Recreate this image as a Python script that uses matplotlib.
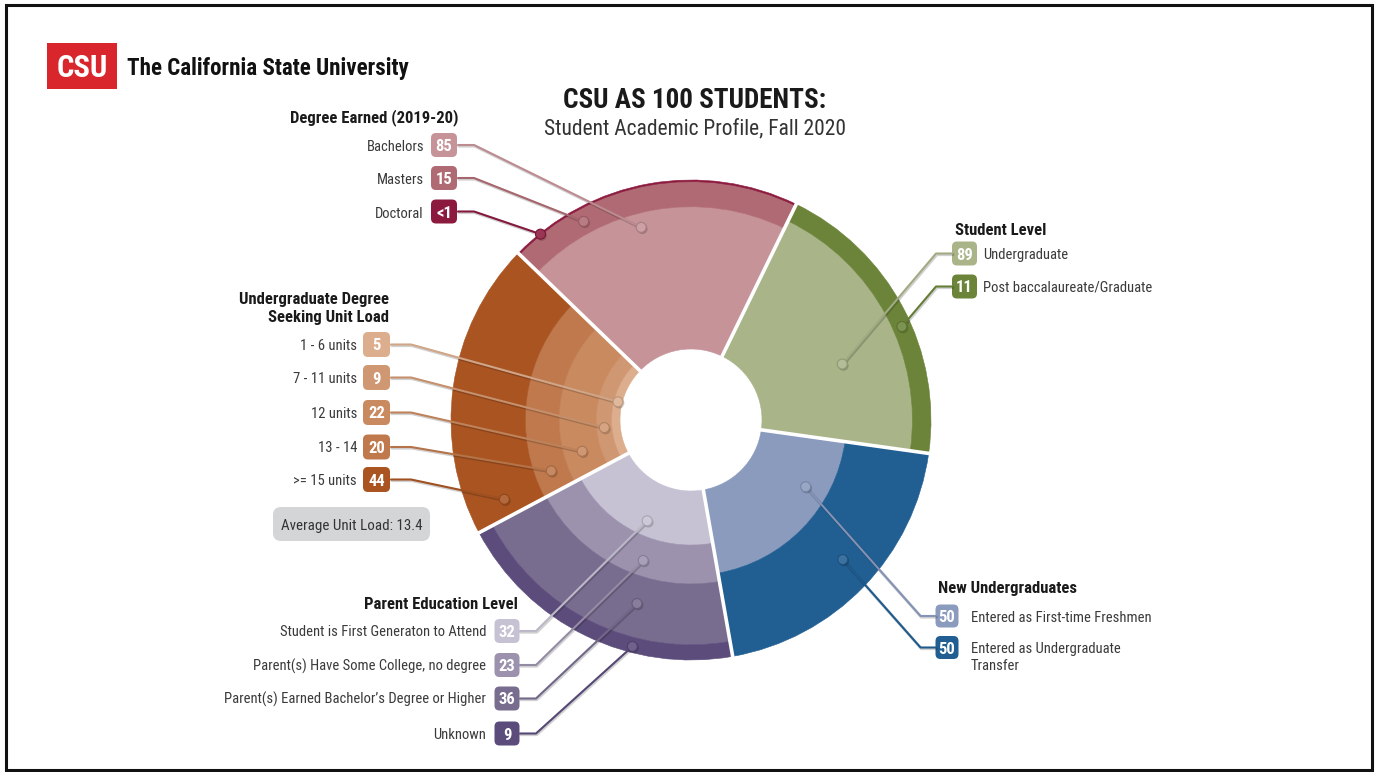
import os, glob
import numpy as np
import matplotlib
matplotlib.use('Agg')
import matplotlib.pyplot as plt
from matplotlib.patches import Wedge, FancyBboxPatch, Circle, Rectangle
from matplotlib.font_manager import FontProperties, fontManager
import matplotlib.patheffects as pe
from matplotlib.colors import to_rgb

# ---------------- data ----------------
degree_labels = ['Bachelors', 'Masters', 'Doctoral']
degree_values = [85, 15, 1]
degree_text = ['85', '15', '<1']

level_labels = ['Undergraduate', 'Post baccalaureate/Graduate']
level_values = [89, 11]

newug_labels = ['Entered as First-time Freshmen', 'Entered as Undergraduate\nTransfer']
newug_values = [50, 50]

parent_labels = ['Student is First Generaton to Attend', 'Parent(s) Have Some College, no degree',
                 "Parent(s) Earned Bachelor\u2019s Degree or Higher", 'Unknown']
parent_values = [32, 23, 36, 9]

unit_labels = ['1 - 6 units', '7 - 11 units', '12 units', '13 - 14', '>= 15 units']
unit_values = [5, 9, 22, 20, 44]

avg_unit_load = 13.4

# ---------------- fonts ----------------
def find_file(name):
    for f in fontManager.ttflist:
        if os.path.basename(f.fname) == name:
            return f.fname
    hits = glob.glob('/usr/share/fonts/**/' + name, recursive=True)
    return hits[0] if hits else None

REG = BOLD = None
SC = 1.0
for r, b, sc in [('LiberationSansNarrow-Regular.ttf', 'LiberationSansNarrow-Bold.ttf', 1.0),
                 ('RobotoCondensed-Regular.ttf', 'RobotoCondensed-Bold.ttf', 1.0),
                 ('DejaVuSansCondensed.ttf', 'DejaVuSansCondensed-Bold.ttf', 0.88)]:
    fr, fb = find_file(r), find_file(b)
    if fr and fb:
        REG, BOLD, SC = fr, fb, sc
        break
if REG is None:
    SC = 0.84

def fprop(size, bold=False, light=False):
    if REG is not None:
        return FontProperties(fname=BOLD if bold else REG, size=size * SC)
    return FontProperties(family=['Roboto', 'DejaVu Sans'],
                          weight='bold' if bold else ('light' if light else 'normal'), size=size * SC)

# ---------------- figure ----------------
W, H = 1376, 772
fig = plt.figure(figsize=(W / 100, H / 100), dpi=100)
ax = fig.add_axes([0, 0, 1, 1])
ax.set_xlim(0, W)
ax.set_ylim(H, 0)
ax.axis('off')

def T(x, y, s, size, bold=False, ha='left', color='#3a3a3a', light=False, va='baseline', **kw):
    return ax.text(x, y, s, fontproperties=fprop(size, bold, light), ha=ha, va=va, color=color, **kw)

def shade(c, f):
    r, g, b = to_rgb(c)
    if f >= 0:
        return (r + (1 - r) * f, g + (1 - g) * f, b + (1 - b) * f)
    return (r * (1 + f), g * (1 + f), b * (1 + f))

# frame
ax.add_patch(Rectangle((6, 5), 1366, 765, fill=False, edgecolor='#111111', lw=2.2, zorder=20))

# logo
ax.add_patch(Rectangle((47, 43), 70, 46, facecolor='#d8262c', edgecolor='none'))
T(82, 77, 'CSU', 22, bold=True, ha='center', color='white')
T(127, 74.5, 'The California State University', 16.6, bold=True, color='#111111')

# titles
T(695, 108, 'CSU AS 100 STUDENTS:', 19.5, bold=True, ha='center', color='#1a1a1a')
T(695, 134, 'Student Academic Profile, Fall 2020', 15.5, ha='center', color='#333333', light=True)

# ---------------- ring chart ----------------
cx, cy = 691, 420
R0, R1 = 71, 240
START, SPAN = -8, 72

groups = [
    dict(values=level_values, colors=['#a9b489', '#6b8439'],
         dot_ang=[20.3, 23.9], dot_frac=[0.6, 0.5]),
    dict(values=degree_values, colors=['#c69399', '#b06a73', '#8c1a3f'],
         dot_ang=[104.5, 118.4, 129.0], dot_frac=[0.9, 0.5, 0.5]),
    dict(values=unit_values, colors=['#dcae8e', '#d09872', '#c98a60', '#bf794d', '#a95421'],
         dot_ang=[166, 185, 196, 200, 203], dot_frac=[0.5] * 5),
    dict(values=parent_values, colors=['#c6c2d3', '#9c92ae', '#786c8f', '#5b4c7b'],
         dot_ang=[246.5, 251.2, 253.6, 255.5], dot_frac=[0.72, 0.6, 0.45, 0.6]),
    dict(values=newug_values, colors=['#8b9bbe', '#215f93'],
         dot_ang=[-30.2, -42.6], dot_frac=[0.73, 0.6]),
]

def pt(r, a):
    t = np.deg2rad(a)
    return cx + r * np.cos(t), cy - r * np.sin(t)

for i, g in enumerate(groups):
    a0 = START + i * SPAN
    a1 = a0 + SPAN
    vals = np.array(g['values'], float)
    cum = np.concatenate([[0], np.cumsum(vals)]) / vals.sum()
    radii = R0 + cum * (R1 - R0)
    g['radii'] = radii
    for k, c in enumerate(g['colors']):
        rin, rout = radii[k], radii[k + 1]
        ax.add_patch(Wedge((cx, cy), rout, -a1, -a0, width=rout - rin,
                           facecolor=c, edgecolor=c, lw=0.4, zorder=2))
    dots = []
    for k in range(len(vals)):
        r = radii[k] + g['dot_frac'][k] * (radii[k + 1] - radii[k])
        dots.append(pt(r, g['dot_ang'][k]))
    g['dots'] = dots

for i in range(5):
    a = START + i * SPAN
    x0, y0 = pt(R0 - 3, a)
    x1, y1 = pt(R1 + 5, a)
    ax.plot([x0, x1], [y0, y1], color='white', lw=2.6, solid_capstyle='butt', zorder=3)

# ---------------- labels ----------------
def badge(x, y, s, color, w=26, h=24):
    ax.add_patch(FancyBboxPatch((x - w / 2, y - h / 2), w, h,
                                boxstyle='round,pad=0,rounding_size=5',
                                facecolor=color, edgecolor='none', zorder=5))
    T(x, y + 6, s, 12, bold=True, ha='center', color='white', zorder=6)

def leader(x0, y0, stub, dot, color):
    xs = [x0, x0 + stub, dot[0]]
    ys = [y0, y0, dot[1]]
    lc = shade(color, -0.05)
    ax.plot(xs, ys, color=lc, lw=1.5, zorder=7, solid_capstyle='round', solid_joinstyle='round',
            path_effects=[pe.SimpleLineShadow(offset=(0.6, -0.8), shadow_color='#000000', alpha=0.18, linewidth=2.2),
                          pe.Normal()])
    ax.add_patch(Circle((dot[0] + 1.2, dot[1] + 1.5), 5.2, facecolor=(0, 0, 0, 0.18),
                        edgecolor='none', zorder=7.5))
    ax.add_patch(Circle(dot, 5.0, facecolor=shade(color, 0.12), edgecolor=shade(color, -0.15),
                        lw=0.8, zorder=8))

# Degree Earned (group 1)
g = groups[1]
T(374, 122, 'Degree Earned (2019-20)', 12, bold=True, ha='center', color='#1a1a1a')
for k, (lab, txt, yy) in enumerate(zip(degree_labels, degree_text, [145, 178, 211.5])):
    T(424, yy + 6, lab, 10.5, ha='right')
    badge(444, yy, txt, g['colors'][k])
    leader(458, yy, 16, g['dots'][k], g['colors'][k])

# Unit load (group 2)
g = groups[2]
T(389, 304, 'Undergraduate Degree', 12, bold=True, ha='right', color='#1a1a1a')
T(389, 322, 'Seeking Unit Load', 12, bold=True, ha='right', color='#1a1a1a')
for k, (lab, v, yy) in enumerate(zip(unit_labels, unit_values, [344.5, 377.5, 412.5, 447, 479.5])):
    T(357, yy + 5.5, lab, 10.5, ha='right')
    badge(376.5, yy, str(v), g['colors'][k], w=27, h=25)
    leader(391, yy, 20, g['dots'][k], g['colors'][k])
ax.add_patch(FancyBboxPatch((273, 507), 157, 34, boxstyle='round,pad=0,rounding_size=8',
                            facecolor='#d4d5d7', edgecolor='none', zorder=5))
T(352, 530, f'Average Unit Load: {avg_unit_load}', 10.8, ha='center', color='#333333', zorder=6)

# Parent education (group 3)
g = groups[3]
T(518, 609, 'Parent Education Level', 12, bold=True, ha='right', color='#1a1a1a')
for k, (lab, v, yy) in enumerate(zip(parent_labels, parent_values, [631, 665, 698.5, 733.5])):
    T(486, yy + 5.5, lab, 10.5, ha='right')
    badge(507, yy, str(v), g['colors'][k], w=25, h=24)
    leader(520, yy, 16, g['dots'][k], g['colors'][k])

# Student level (group 0)
g = groups[0]
T(955, 235, 'Student Level', 12, bold=True, color='#1a1a1a')
for k, (lab, v, yy) in enumerate(zip(level_labels, level_values, [253.5, 286.5])):
    T(983, yy + 5.5, lab, 10.5)
    badge(964.5, yy, str(v), g['colors'][k], w=25, h=24)
    leader(952, yy, -16, g['dots'][k], g['colors'][k])

# New undergraduates (group 4)
g = groups[4]
T(938, 593, 'New Undergraduates', 12, bold=True, color='#1a1a1a')
for k, (lab, v, yy) in enumerate(zip(newug_labels, newug_values, [616, 647.5])):
    for j, line in enumerate(lab.split('\n')):
        T(971, yy + 5.5 + j * 17, line, 10.5)
    badge(947, yy, str(v), g['colors'][k], w=23, h=23)
    leader(935.5, yy, -15, g['dots'][k], g['colors'][k])

fig.savefig('out.png', dpi=100, facecolor='white')
